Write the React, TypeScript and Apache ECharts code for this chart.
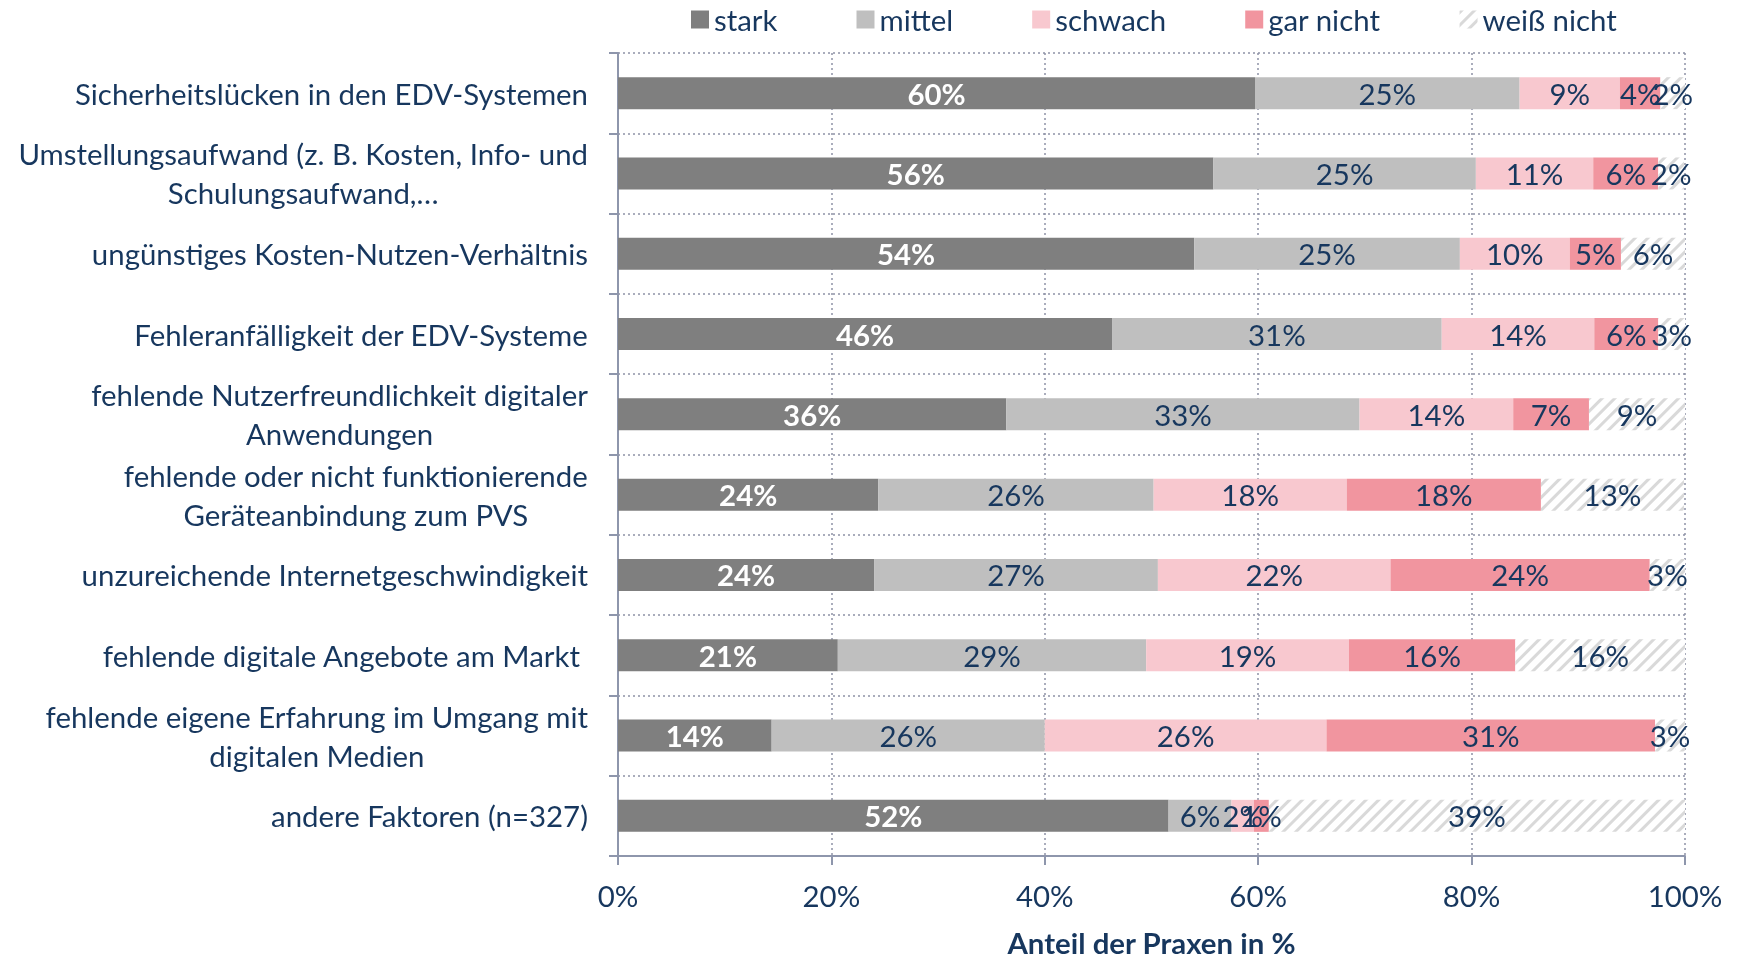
import React, { useEffect, useRef } from "react";
import * as echarts from "echarts";

const categories = [
  "Sicherheitslücken in den EDV-Systemen",
  "Umstellungsaufwand (z. B. Kosten, Info- und\nSchulungsaufwand,…",
  "ungünstiges Kosten-Nutzen-Verhältnis",
  "Fehleranfälligkeit der EDV-Systeme",
  "fehlende Nutzerfreundlichkeit digitaler\nAnwendungen",
  "fehlende oder nicht funktionierende\nGeräteanbindung zum PVS",
  "unzureichende Internetgeschwindigkeit",
  "fehlende digitale Angebote am Markt ",
  "fehlende eigene Erfahrung im Umgang mit\ndigitalen Medien",
  "andere Faktoren (n=327)",
];

const seriesNames = ["stark", "mittel", "schwach", "gar nicht", "weiß nicht"];

const stark = [59.7, 55.8, 54.0, 46.3, 36.4, 24.4, 24.0, 20.6, 14.4, 51.6];
const mittel = [24.8, 24.6, 24.9, 30.9, 33.1, 25.8, 26.6, 28.9, 25.6, 5.9];
const schwach = [9.4, 11.0, 10.3, 14.3, 14.4, 18.1, 21.8, 19.0, 26.4, 2.1];
const garNicht = [3.8, 6.1, 4.8, 6.0, 7.1, 18.2, 24.3, 15.6, 30.8, 1.4];
const weissNicht = [2.3, 2.4, 6.0, 2.5, 9.0, 13.4, 3.3, 15.9, 2.8, 39.0];

const tickLabels = ["0%", "20%", "40%", "60%", "80%", "100%"];

const values = [stark, mittel, schwach, garNicht, weissNicht];
const colors = ["#7f7f7f", "#bfbfbf", "#f8c8cf", "#f1959f", "#ffffff"];

const FONT = "Lato";
const TXT = "#17375e";
const FS = 29.4;

export default function App() {
  const ref = useRef<HTMLDivElement>(null);
  useEffect(() => {
    if (!ref.current) return;
    const chart = echarts.init(ref.current, null, { renderer: "svg" });
    const series = seriesNames.map((name, i) => ({
      name,
      type: "bar",
      stack: "total",
      barWidth: 32,
      data: values[i],
      itemStyle: {
        color: colors[i],
        ...(i === 4
          ? {
              decal: {
                symbol: "rect",
                symbolSize: 1,
                color: "#d9d9d9",
                dashArrayX: [1, 0],
                dashArrayY: [3, 6],
                rotation: -Math.PI / 4,
              },
            }
          : {}),
      },
      label: {
        show: true,
        position: "inside",
        formatter: (p: any) => Math.round(p.value) + "%",
        fontFamily: FONT,
        fontSize: FS,
        color: i === 0 ? "#ffffff" : TXT,
        fontWeight: i === 0 ? "bold" : "normal",
      },
    }));
    chart.setOption({
      animation: false,
      textStyle: { fontFamily: FONT },
      legend: {
        top: 0,
        left: 686,
        itemWidth: 18,
        itemHeight: 18,
        itemGap: 79,
        itemTextGap: 9,
        icon: "rect",
        textStyle: { fontFamily: FONT, fontSize: FS, color: TXT },
        data: seriesNames,
      },
      grid: { left: 618, right: 58, top: 53, height: 808 },
      xAxis: {
        type: "value",
        min: 0,
        max: 100,
        interval: 20,
        axisLine: { show: true, lineStyle: { color: "#8e96ac", width: 2 } },
        axisTick: { show: true, length: 9, lineStyle: { color: "#8e96ac", width: 2 } },
        axisLabel: {
          formatter: (v: number) => tickLabels[Math.round(v / 20)],
          fontFamily: FONT,
          fontSize: FS,
          color: TXT,
          margin: 25,
        },
        splitLine: { show: true, lineStyle: { color: "#8e92a6", type: [2, 3], width: 1.5 } },
        name: "Anteil der Praxen in %",
        nameLocation: "middle",
        nameGap: 72,
        nameTextStyle: { fontFamily: FONT, fontSize: FS, fontWeight: "bold", color: TXT },
      },
      yAxis: {
        type: "category",
        inverse: true,
        data: categories,
        axisLine: { show: true, lineStyle: { color: "#8e96ac", width: 2 } },
        axisTick: { show: true, length: 9, lineStyle: { color: "#8e96ac", width: 2 } },
        splitLine: { show: true, lineStyle: { color: "#8e92a6", type: [2, 3], width: 1.5 } },
        axisLabel: {
          margin: 30,
          formatter: (v: string) =>
            v
              .split("\n")
              .map((l) => `{c|${l}}`)
              .join("\n"),
          rich: {
            c: {
              align: "center",
              fontFamily: FONT,
              fontSize: FS,
              color: TXT,
              lineHeight: 39,
            },
          },
        },
      },
      series,
    });
    return () => chart.dispose();
  }, []);
  return (
    <div
      ref={ref}
      style={{ position: "fixed", left: 0, top: 0, width: 1743, height: 962 }}
    />
  );
}
